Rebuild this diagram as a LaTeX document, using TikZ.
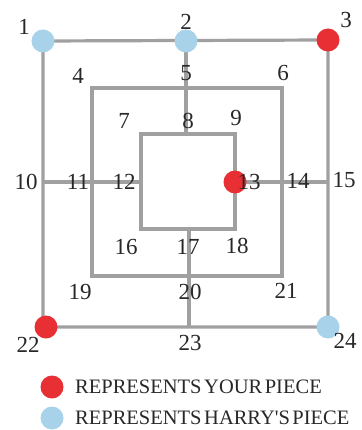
\documentclass[tikz,border=0pt]{standalone}
\usepackage{fontspec}
\setmainfont{Liberation Serif}
\newfontfamily\legendfamily{Liberation Serif}[WordSpace=0.5]
\usepackage{tikz}
\definecolor{boardgray}{RGB}{160,160,160}
\definecolor{yourred}{RGB}{232,48,52}
\definecolor{harryblue}{RGB}{168,210,234}
\definecolor{inkgray}{RGB}{40,40,40}

\begin{document}
\begin{tikzpicture}[
  x=1pt, y=-1pt,
  line/.style={draw=boardgray, line width=3.2pt},
  piece/.style={circle, inner sep=0pt, minimum size=23pt},
  red/.style={piece, fill=yourred},
  blue/.style={piece, fill=harryblue},
  num/.style={font=\fontsize{23}{23}\selectfont, text=inkgray, inner sep=0pt},
  legend/.style={font=\legendfamily\fontsize{20.5}{20.5}\selectfont, text=inkgray, inner sep=0pt, anchor=west}
]
\clip (0,0) rectangle (361,430);
\fill[white] (0,0) rectangle (361,430);

% --- Points ---
\coordinate (p1) at (43,41);   \coordinate (p2) at (186,41);  \coordinate (p3) at (328,40);
\coordinate (p4) at (92,88);   \coordinate (p5) at (186,88);  \coordinate (p6) at (282,88);
\coordinate (p7) at (141,134); \coordinate (p8) at (186,134); \coordinate (p9) at (235,134);
\coordinate (p10) at (43,182); \coordinate (p11) at (92,182); \coordinate (p12) at (141,182);
\coordinate (p13) at (235,182);\coordinate (p14) at (282,182);\coordinate (p15) at (328,182);
\coordinate (p16) at (141,229);\coordinate (p17) at (189,229);\coordinate (p18) at (235,229);
\coordinate (p19) at (92,276); \coordinate (p20) at (189,276);\coordinate (p21) at (282,276);
\coordinate (p22) at (43,327); \coordinate (p23) at (189,327);\coordinate (p24) at (328,327);

% --- Board ---
\draw[line] (p1) -- (p3) -- (p24) -- (p22) -- cycle;
\draw[line] (p4) -- (p6) -- (p21) -- (p19) -- cycle;
\draw[line] (p7) -- (p9) -- (p18) -- (p16) -- cycle;
\draw[line] (p2) -- (p8);
\draw[line] (p17) -- (p23);
\draw[line] (p10) -- (p12);
\draw[line] (p13) -- (p15);

% --- Pieces ---
\node[blue] (d1) at (p1) {};
\node[blue] (d2) at (p2) {};
\node[red]  (d3) at (p3) {};
\node[red]  (d13) at (p13) {};
\node[red]  (d22) at ([xshift=3pt]p22) {};
\node[blue] (d24) at (p24) {};

% --- Numbers ---
\node[num] (n1) at (24,27) {1};
\node[num] (n2) at (186,22) {2};
\node[num] (n3) at (346,20) {3};
\node[num] (n4) at (78,76) {4};
\node[num] (n5) at (186,73) {5};
\node[num] (n6) at (283,73) {6};
\node[num] (n7) at (124,121) {7};
\node[num] (n8) at (188,121) {8};
\node[num] (n9) at (236,118) {9};
\node[num] (n10) at (26,182) {10};
\node[num] (n11) at (78,182) {11};
\node[num] (n12) at (124,182) {12};
\node[num] (n13) at (249,182) {13};
\node[num] (n14) at (298,181) {14};
\node[num] (n15) at (344,180) {15};
\node[num] (n16) at (126,247) {16};
\node[num] (n17) at (188,247) {17};
\node[num] (n18) at (237,246) {18};
\node[num] (n19) at (80,292) {19};
\node[num] (n20) at (190,292) {20};
\node[num] (n21) at (286,291) {21};
\node[num] (n22) at (28,345) {22};
\node[num] (n23) at (190,343) {23};
\node[num] (n24) at (345,341) {24};

% --- Legend ---
\node[red]  (keyred) at (52,387) {};
\node[legend] (keyredtxt) at (75,387) {REPRESENTS YOUR PIECE};
\node[blue] (keyblue) at (52,418) {};
\node[legend] (keybluetxt) at (75,418) {REPRESENTS HARRY'S PIECE};

\end{tikzpicture}
\end{document}
